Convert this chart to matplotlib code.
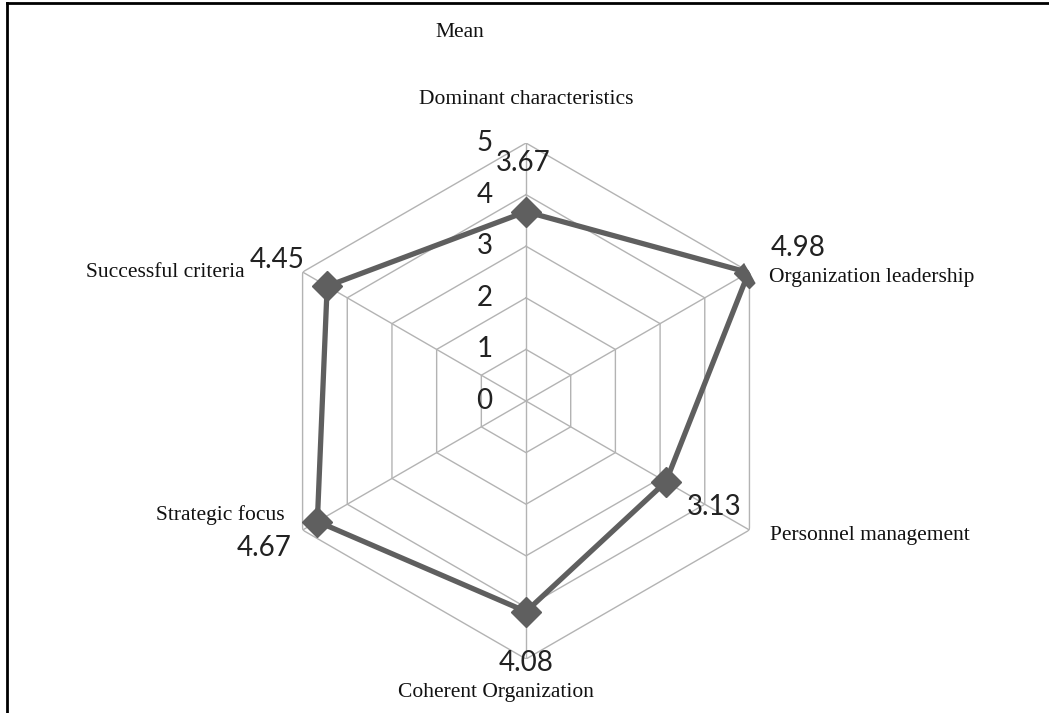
import numpy as np
import matplotlib
matplotlib.use("Agg")
import matplotlib.pyplot as plt
from matplotlib.lines import Line2D

categories = ["Dominant characteristics", "Organization leadership", "Personnel management",
              "Coherent Organization", "Strategic focus", "Successful criteria"]
means = [3.67, 4.98, 3.13, 4.08, 4.67, 4.45]
ring_levels = [0, 1, 2, 3, 4, 5]

# label placement (offsets in points from the point / outer vertex)
value_offsets = [(-2, 35), (36, 18), (35, -18), (0, -37), (-38, -19), (-36, 19)]
cat_offsets = [(0, 31), (14, -4), (15, -4), (-22, -24), (-13, 11), (-42, 0)]
cat_ha = ["center", "left", "left", "center", "right", "right"]

grid_color = "#b3b3b3"
line_color = "#5f5f5f"

n = len(categories)
theta = np.arange(n) * 2 * np.pi / n
theta_closed = np.append(theta, theta[0])

fig = plt.figure(figsize=(10.49, 7.13), dpi=100)
ax = fig.add_axes([0.2555, 0.0757, 0.4919, 0.7237], projection="polar")
ax.set_theta_zero_location("N")
ax.set_theta_direction(-1)
ax.set_ylim(0, max(ring_levels))
ax.grid(False)
ax.spines["polar"].set_visible(False)
ax.set_xticks([])
ax.set_yticks([])
ax.patch.set_alpha(0)

# hexagon rings and spokes
for r in ring_levels[1:]:
    ax.plot(theta_closed, [r] * (n + 1), color=grid_color, lw=1.0, zorder=1)
for t in theta:
    ax.plot([t, t], [0, ring_levels[-1]], color=grid_color, lw=1.0, zorder=1)

# radial tick labels left of the top spoke
for r in ring_levels:
    ax.annotate(str(r), xy=(0, r), xytext=(-30, 0), textcoords="offset points",
                ha="center", va="center", fontsize=20, family="Lato", color="#222222")

# data series
values_closed = means + [means[0]]
ax.plot(theta_closed, values_closed, color=line_color, lw=3.8, zorder=3)
ax.plot(theta, means, linestyle="none", marker="D", markersize=15, color=line_color, zorder=4)

for t, v, off in zip(theta, means, value_offsets):
    ax.annotate(f"{v:.2f}", xy=(t, v), xytext=off, textcoords="offset points",
                ha="center", va="center", fontsize=20, family="Lato", color="#222222")

for t, name, off, ha in zip(theta, categories, cat_offsets, cat_ha):
    ax.annotate(name, xy=(t, ring_levels[-1]), xytext=off, textcoords="offset points",
                ha=ha, va="center", fontsize=15.5, family="Liberation Serif", color="#111111")

fig.text(0.438, 0.954, "Mean", ha="center", va="center", fontsize=15.5,
         family="Liberation Serif", color="#111111")

# page frame (top and left edges)
fig.add_artist(Line2D([7 / 1049, 1.0], [1 - 3 / 713, 1 - 3 / 713], transform=fig.transFigure,
                      color="black", lw=2))
fig.add_artist(Line2D([7 / 1049, 7 / 1049], [0.0, 1 - 3 / 713], transform=fig.transFigure,
                      color="black", lw=2))

fig.savefig("out.png", dpi=100)
